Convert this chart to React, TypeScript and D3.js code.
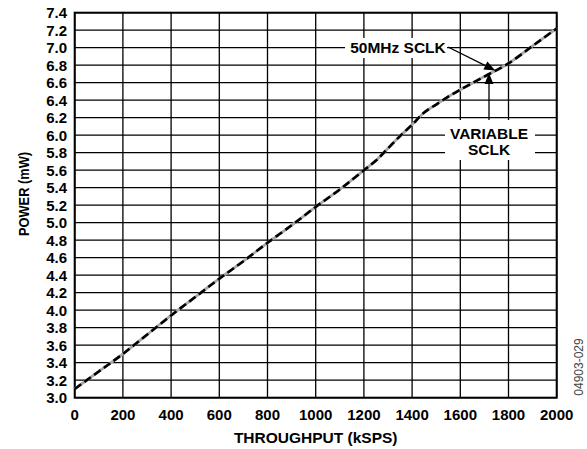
import React from "react";
import * as d3 from "d3";

const throughput = [0, 100, 200, 300, 400, 500, 600, 700, 800, 900, 1000, 1100, 1200, 1250, 1300, 1350, 1400, 1450, 1500, 1550, 1600, 1700, 1800, 1900, 2000];
const powerFixed = [3.1, 3.3, 3.5, 3.72, 3.94, 4.15, 4.36, 4.56, 4.77, 4.97, 5.18, 5.38, 5.6, 5.71, 5.85, 5.99, 6.12, 6.26, 6.35, 6.44, 6.52, 6.67, 6.82, 7.02, 7.22];
const powerVariable = [3.1, 3.3, 3.5, 3.72, 3.94, 4.15, 4.36, 4.56, 4.77, 4.97, 5.18, 5.38, 5.6, 5.71, 5.85, 5.99, 6.12, 6.26, 6.35, 6.44, 6.52, 6.67, 6.82, 7.02, 7.22];
const xTicks = [0, 200, 400, 600, 800, 1000, 1200, 1400, 1600, 1800, 2000];
const yTicks = [3.0, 3.2, 3.4, 3.6, 3.8, 4.0, 4.2, 4.4, 4.6, 4.8, 5.0, 5.2, 5.4, 5.6, 5.8, 6.0, 6.2, 6.4, 6.6, 6.8, 7.0, 7.2, 7.4];
const xTitle = "THROUGHPUT (kSPS)";
const yTitle = "POWER (mW)";
const label50 = "50MHz SCLK";
const labelVar1 = "VARIABLE";
const labelVar2 = "SCLK";
const figId = "04903-029";

const W = 587, H = 449;
const L = 74.7, R = 556.7, T = 12.7, B = 397.7;
const font = "'Liberation Sans', Arial, Helvetica, sans-serif";

export default function App() {
  const x = d3.scaleLinear().domain([0, 2000]).range([L, R]);
  const y = d3.scaleLinear().domain([3.0, 7.4]).range([B, T]);
  const pts1 = throughput.map((t, i) => [t, powerFixed[i]] as [number, number]);
  const pts2 = throughput.map((t, i) => [t, powerVariable[i]] as [number, number]);
  const line = d3.line<[number, number]>().x(d => x(d[0])).y(d => y(d[1])).curve(d3.curveMonotoneX);

  const a1x0 = 448, a1y0 = 47;
  const a1x1 = x(1745), a1y1 = y(6.74);
  const ang = Math.atan2(a1y1 - a1y0, a1x1 - a1x0);
  const hl = 11, hw = 4.5;
  const head = (tx: number, ty: number, a: number) => {
    const bx = tx - hl * Math.cos(a), by = ty - hl * Math.sin(a);
    const px = -Math.sin(a) * hw, py = Math.cos(a) * hw;
    return `M${tx},${ty}L${bx + px},${by + py}L${bx - px},${by - py}Z`;
  };
  const a2x = 489, a2y0 = 120, a2y1 = 73;

  return (
    <svg width={W} height={H} style={{ position: "absolute", left: 0, top: 0, background: "#fff" }}>
      <rect x={0} y={0} width={W} height={H} fill="#fff" />
      {yTicks.map(v => (
        <line key={"gy" + v} x1={L} x2={R} y1={y(v)} y2={y(v)} stroke="#000" strokeWidth={1.3} />
      ))}
      {xTicks.map(v => (
        <line key={"gx" + v} x1={x(v)} x2={x(v)} y1={T} y2={B} stroke="#000" strokeWidth={1.3} />
      ))}
      <rect x={L} y={T} width={R - L} height={B - T} fill="none" stroke="#000" strokeWidth={2} />
      <rect x={345} y={38} width={102} height={20} fill="#fff" />
      <rect x={445} y={120} width={90} height={40} fill="#fff" />
      <path d={line(pts1) || ""} fill="none" stroke="#a8a8a8" strokeWidth={2.8} />
      <path d={line(pts2) || ""} fill="none" stroke="#000" strokeWidth={2.6} strokeDasharray="8,4" />
      {yTicks.map(v => (
        <text key={"ty" + v} x={67} y={y(v)} dy="0.36em" textAnchor="end" fontFamily={font} fontWeight="bold" fontSize={15}>
          {v.toFixed(1)}
        </text>
      ))}
      {xTicks.map(v => (
        <text key={"tx" + v} x={x(v)} y={420} textAnchor="middle" fontFamily={font} fontWeight="bold" fontSize={15}>
          {v}
        </text>
      ))}
      <text x={(L + R) / 2} y={443} textAnchor="middle" fontFamily={font} fontWeight="bold" fontSize={15.5}>{xTitle}</text>
      <text transform={`translate(29,194) rotate(-90)`} textAnchor="middle" fontFamily={font} fontWeight="bold" fontSize={14} textLength={84} lengthAdjust="spacingAndGlyphs">{yTitle}</text>
      <text x={398} y={53} textAnchor="middle" fontFamily={font} fontWeight="bold" fontSize={15.5}>{label50}</text>
      <line x1={a1x0} y1={a1y0} x2={a1x1 - hl * Math.cos(ang)} y2={a1y1 - hl * Math.sin(ang)} stroke="#000" strokeWidth={1.3} />
      <path d={head(a1x1, a1y1, ang)} fill="#000" />
      <line x1={a2x} y1={a2y0} x2={a2x} y2={a2y1 + hl} stroke="#000" strokeWidth={1.3} />
      <path d={head(a2x, a2y1, -Math.PI / 2)} fill="#000" />
      <text x={489} y={139} textAnchor="middle" fontFamily={font} fontWeight="bold" fontSize={15.5}>{labelVar1}</text>
      <text x={489} y={154.5} textAnchor="middle" fontFamily={font} fontWeight="bold" fontSize={15.5}>{labelVar2}</text>
      <text transform={`translate(583,367) rotate(-90)`} textAnchor="middle" fontFamily={font} fontSize={12} fill="#444">{figId}</text>
    </svg>
  );
}
